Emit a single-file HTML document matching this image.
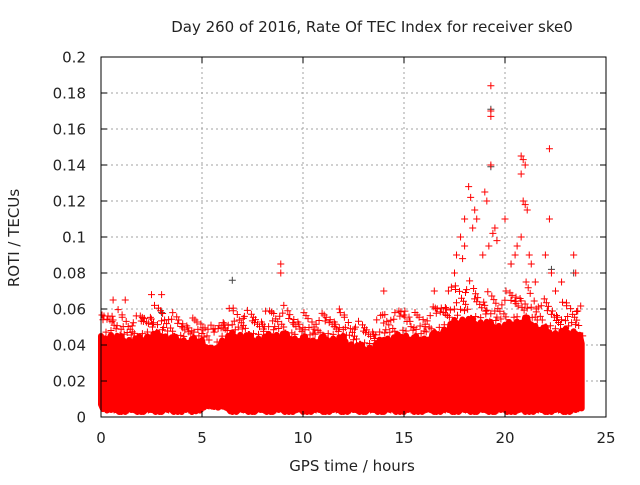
<!DOCTYPE html>
<html><head><meta charset="utf-8"><style>
body{margin:0;background:#fff}
svg text{font-family:"DejaVu Sans","Liberation Sans",sans-serif;font-size:15px;fill:#222}
</style></head><body>
<svg id="chart" width="640" height="480" viewBox="0 0 640 480" xmlns="http://www.w3.org/2000/svg">
<rect width="640" height="480" fill="#fff"/>
<text x="372" y="32" text-anchor="middle">Day 260 of 2016, Rate Of TEC Index for receiver ske0</text>
<text transform="translate(19,238) rotate(-90)" text-anchor="middle">ROTI / TECUs</text>
<text x="352" y="471" text-anchor="middle">GPS time / hours</text>
<g id="grid"></g>
<g id="marks"></g>
<g id="axes"></g>
</svg>
<script>
const xTicks=[0,5,10,15,20,25];
const yTicks=[0,0.02,0.04,0.06,0.08,0.1,0.12,0.14,0.16,0.18,0.2];
const yTickLabels=["0","0.02","0.04","0.06","0.08","0.1","0.12","0.14","0.16","0.18","0.2"];
const bandTimes=[0,0.5,1,1.5,2,2.5,3,3.5,4,4.5,5,5.5,6,6.5,7,7.5,8,8.5,9,9.5,10,10.5,11,11.5,12,12.5,13,13.5,14,14.5,15,15.5,16,16.5,17,17.5,18,18.5,19,19.5,20,20.5,21,21.5,22,22.5,23,23.5,23.8];
const bandTop=[0.058,0.062,0.058,0.055,0.058,0.062,0.062,0.058,0.055,0.055,0.055,0.05,0.058,0.062,0.06,0.058,0.058,0.062,0.062,0.058,0.058,0.056,0.058,0.058,0.058,0.054,0.052,0.052,0.062,0.058,0.064,0.058,0.058,0.062,0.068,0.075,0.078,0.072,0.07,0.068,0.07,0.072,0.075,0.068,0.065,0.062,0.065,0.065,0.06];
const bandCore=[0.045,0.047,0.045,0.044,0.045,0.047,0.047,0.045,0.044,0.044,0.044,0.038,0.044,0.047,0.047,0.045,0.045,0.047,0.047,0.045,0.045,0.044,0.045,0.045,0.045,0.041,0.04,0.04,0.045,0.045,0.047,0.045,0.045,0.047,0.05,0.054,0.056,0.054,0.054,0.052,0.052,0.054,0.056,0.052,0.05,0.048,0.049,0.049,0.045];
const bandBottom=[0.007,0.005,0.005,0.005,0.005,0.005,0.005,0.005,0.005,0.005,0.006,0.008,0.007,0.005,0.005,0.005,0.005,0.005,0.005,0.005,0.005,0.005,0.005,0.005,0.005,0.005,0.005,0.005,0.005,0.005,0.005,0.005,0.005,0.005,0.005,0.005,0.005,0.005,0.005,0.005,0.005,0.005,0.005,0.005,0.005,0.005,0.005,0.005,0.007];
const spikeT=[19.3,19.3,19.3,22.2,20.8,20.9,21.0,19.3,20.8,20.9,21.0,21.1,19.4,22.2,18.2,18.3,18.5,18.0,17.8,18.6,19.0,19.1,19.5,20.0,20.3,20.8,21.2,22.0,23.4,23.5,17.5,17.2,16.5,14.0,8.9,8.9,11.8,2.5,3.0,0.6,1.2,17.6,18.0,18.9,19.2,20.5,21.5,22.5,22.8,18.4,19.6,21.3,20.6,17.9,22.3];
const spikeV=[0.184,0.17,0.167,0.149,0.145,0.143,0.14,0.14,0.135,0.12,0.118,0.115,0.102,0.11,0.128,0.122,0.115,0.11,0.1,0.11,0.125,0.12,0.105,0.11,0.085,0.1,0.09,0.09,0.09,0.08,0.08,0.07,0.07,0.07,0.085,0.08,0.06,0.068,0.068,0.065,0.065,0.09,0.095,0.09,0.095,0.09,0.075,0.07,0.075,0.105,0.098,0.085,0.095,0.088,0.08];
const grayT=[6.5,19.3,19.3,20.3,22.3,23.4,3.0];
const grayV=[0.076,0.171,0.139,0.085,0.082,0.08,0.058];

const X0=101,X1=606,Y0=417,Y1=57;
const xs=v=>X0+(X1-X0)*v/25;
const ys=v=>Y0-(Y0-Y1)*v/0.2;
const NS="http://www.w3.org/2000/svg";
const grid=document.getElementById('grid'),axes=document.getElementById('axes'),marks=document.getElementById('marks');
function mk(tag,attrs,parent){const e=document.createElementNS(NS,tag);for(const k in attrs)e.setAttribute(k,attrs[k]);parent.appendChild(e);return e;}
xTicks.forEach((t,i)=>{
  const x=xs(t);
  if(t>0&&t<25){const g=mk('line',{x1:x,x2:x,y1:Y1,y2:Y0,stroke:'#a0a0a0','stroke-dasharray':'2,3'},grid);
  
  }
  mk('line',{x1:x,x2:x,y1:Y0,y2:Y0-6,stroke:'#000'},axes);
  mk('line',{x1:x,x2:x,y1:Y1,y2:Y1+6,stroke:'#000'},axes);
  const tx=mk('text',{x:x,y:Y0+26,'text-anchor':'middle'},axes);tx.textContent=t;
  
  
});
yTicks.forEach((t,i)=>{
  const y=ys(t);
  if(t>0&&t<0.2){const g=mk('line',{x1:X0,x2:X1,y1:y,y2:y,stroke:'#a0a0a0','stroke-dasharray':'2,3'},grid);
  
  }
  mk('line',{x1:X0,x2:X0+6,y1:y,y2:y,stroke:'#000'},axes);
  mk('line',{x1:X1,x2:X1-6,y1:y,y2:y,stroke:'#000'},axes);
  const tx=mk('text',{x:X0-15,y:y+5.5,'text-anchor':'end'},axes);tx.textContent=yTickLabels[i];
  
  
});
const fr=mk('rect',{x:X0,y:Y1,width:X1-X0,height:Y0-Y1,fill:'none',stroke:'#000'},axes);



function cross(x,y){return `M${x-3.5},${y}h7M${x},${y-3.5}v7`;}
let gp='';
grayT.forEach((t,i)=>{gp+=cross(xs(t),ys(grayV[i]));});
const gpath=mk('path',{d:gp,stroke:'#444','stroke-width':1,fill:'none'},marks);



const jit=[0,7,3,9,5,2,8,4,10,1,6];
let topPts=[],botPts=[],rp='';
let n=0;
for(let i=0;i<bandTimes.length-1;i++){
  const xa=xs(bandTimes[i]),xb=xs(bandTimes[i+1]);
  for(let x=xa;x<xb;x+=2){
    const f=(x-xa)/(xb-xa);
    const top=bandTop[i]+(bandTop[i+1]-bandTop[i])*f;
    const core=bandCore[i]+(bandCore[i+1]-bandCore[i])*f;
    const bot=bandBottom[i]+(bandBottom[i+1]-bandBottom[i])*f;
    const dip=jit[n%11]*0.0007;
    topPts.push([x,ys(core-dip)]);
    botPts.push([x,ys(bot)+2*(jit[(n*5)%11]%3)]);
    n++;
    rp+=cross(x+1,ys(core+(top-core)*jit[(n*3)%11]/10));
    if(n%2===0) rp+=cross(x,ys(core+(top-core)*jit[(n*7)%11]/14));
    if(n%4===0) rp+=cross(x+1,ys(bot)+2);
  }
}
let ad='M'+topPts.map(p=>p[0]+','+p[1]).join('L')+'L'+botPts.reverse().map(p=>p[0]+','+p[1]).join('L')+'Z';
const area=mk('path',{d:ad,fill:'#ff0000',stroke:'#ff0000','stroke-width':6,'stroke-linejoin':'round'},marks);


spikeT.forEach((t,i)=>{rp+=cross(xs(t),ys(spikeV[i]));});
const rpath=mk('path',{d:rp,stroke:'#ff0000','stroke-width':1,fill:'none'},marks);


</script>
</body></html>
